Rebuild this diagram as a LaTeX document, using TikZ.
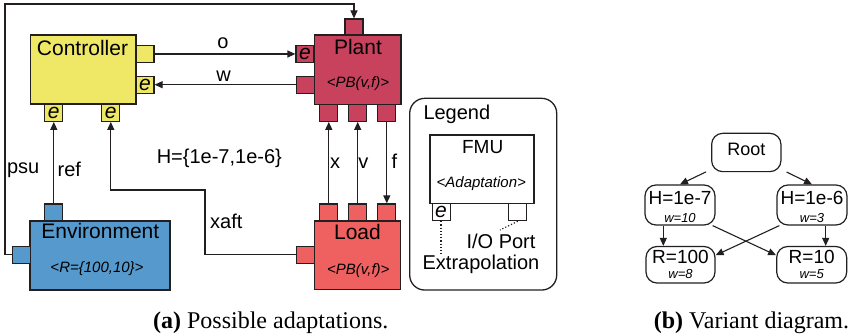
\documentclass[tikz,border=0pt]{standalone}
\usepackage{fontspec}
\setmainfont{Liberation Sans}
\newfontfamily\capfont{Liberation Serif}
\usetikzlibrary{arrows.meta}

\definecolor{ink}{HTML}{231F20}
\definecolor{ctrlY}{HTML}{EFE766}
\definecolor{plantR}{HTML}{C8425E}
\definecolor{loadR}{HTML}{EF6160}
\definecolor{envB}{HTML}{5599CD}

\tikzset{
  fmu/.style={draw=ink, line width=1.4pt, inner sep=0pt},
  port/.style={draw=ink, line width=1.2pt, minimum width=18pt, minimum height=17pt,
    inner sep=0pt, font=\fontsize{21}{21}\selectfont\itshape},
  wire/.style={draw=ink, line width=1.2pt},
  arr/.style={-{Triangle[length=8pt,width=7pt]}},
  lbl/.style={inner sep=0pt, anchor=base, font=\fontsize{20}{20}\selectfont},
  title/.style={inner sep=0pt, anchor=base, font=\fontsize{21}{21}\selectfont},
  adapt/.style={inner sep=0pt, anchor=base, font=\fontsize{15}{15}\selectfont\itshape},
  gnode/.style={draw=ink, line width=1.2pt, rounded corners=11pt, fill=white, inner sep=0pt},
  gtext/.style={inner sep=0pt, anchor=base, font=\fontsize{19}{19}\selectfont},
  gw/.style={inner sep=0pt, anchor=base, font=\fontsize{13}{13}\selectfont\itshape},
  garr/.style={draw=ink, line width=1.1pt, -{Triangle[length=8pt,width=7pt]}},
  capst/.style={inner sep=0pt, anchor=base, font=\capfont\fontsize{24}{24}\selectfont},
  dots/.style={draw=ink, line width=1.2pt, dash pattern=on 1.2pt off 2pt}
}

\begin{document}
\begin{tikzpicture}[x=1pt, y=-1pt]
\useasboundingbox (0,0) rectangle (854,336);

% ---------- Controller ----------
\node[fmu, fill=ctrlY, minimum width=105.3pt, minimum height=69pt] (ctrl) at (83.3,69.5) {};
\node[title] (ctrlT) at (82.5,56) {Controller};
\node[port, fill=ctrlY] (cO) at (145,54) {};
\node[port, fill=ctrlY] (cW) at (145,84.7) {e};
\node[port, fill=ctrlY] (cRef) at (53.8,112.8) {e};
\node[port, fill=ctrlY] (cX) at (110.8,112.8) {e};

% ---------- Plant ----------
\node[fmu, fill=plantR, minimum width=86.7pt, minimum height=69.3pt] (plant) at (357.7,69.7) {};
\node[title] (plantT) at (358,55) {Plant};
\node[adapt] (plantA) at (358,87.5) {<PB(v,f)>};
\node[port, fill=plantR, minimum height=16pt] (pTop) at (354,27) {};
\node[port, fill=plantR] (pO) at (305,54) {e};
\node[port, fill=plantR] (pW) at (305.3,84.7) {};
\node[port, fill=plantR] (pX) at (328.8,112.8) {};
\node[port, fill=plantR] (pV) at (357.7,112.8) {};
\node[port, fill=plantR] (pF) at (386.8,112.8) {};

% ---------- Load ----------
\node[fmu, fill=loadR, minimum width=86.4pt, minimum height=68.3pt] (load) at (357.5,255.2) {};
\node[title] (loadT) at (357.5,239.3) {Load};
\node[adapt] (loadA) at (358.3,274.5) {<PB(v,f)>};
\node[port, fill=loadR] (lX) at (328.8,212.5) {};
\node[port, fill=loadR] (lV) at (357.7,212.5) {};
\node[port, fill=loadR] (lF) at (386.8,212.5) {};
\node[port, fill=loadR] (lXaft) at (305.3,254.7) {};

% ---------- Environment ----------
\node[fmu, fill=envB, minimum width=140pt, minimum height=69pt] (env) at (100,255.5) {};
\node[title] (envT) at (100.3,239) {Environment};
\node[adapt] (envA) at (97,272.5) {<R=\{100,10\}>};
\node[port, fill=envB] (eRef) at (53.8,212.5) {};
\node[port, fill=envB] (ePsu) at (21.2,254.7) {};

% ---------- connections ----------
\coordinate (cornerTL) at (5,4);
\coordinate (xaftBend) at (205,190);
\draw[wire, arr] (ePsu.west) -| (cornerTL) -| (pTop.north);
\draw[wire, arr] (cO.east) -- (pO.west);
\draw[wire, arr] (pW.west) -- (cW.east);
\draw[wire, arr] (eRef.north) -- (cRef.south);
\draw[wire, arr] (lXaft.west) -| (xaftBend) -| (cX.south);
\draw[wire, arr] (lX.north) -- (pX.south);
\draw[wire, arr] (lV.north) -- (pV.south);
\draw[wire, arr] (pF.south) -- (lF.north);

\node[lbl] (lo) at (223,48.3) {o};
\node[lbl] (lw) at (223.7,81.7) {w};
\node[lbl] (lref) at (69.3,176.7) {ref};
\node[lbl] (lpsu) at (23.2,173.5) {psu};
\node[lbl] (lH) at (219.3,163.3) {H=\{1e-7,1e-6\}};
\node[lbl] (lxaft) at (226.3,228.3) {xaft};
\node[lbl] (lx) at (335,169) {x};
\node[lbl] (lv) at (363.3,169) {v};
\node[lbl] (lf) at (394.5,169) {f};

% ---------- Legend ----------
\node[draw=ink, line width=1.3pt, rounded corners=15pt, minimum width=147pt,
      minimum height=191.7pt, inner sep=0pt] (legend) at (483.2,194.2) {};
\node[lbl, anchor=base west] (legT) at (423.3,120) {Legend};
\node[fmu, fill=white, line width=1.2pt, minimum width=104pt, minimum height=68.3pt] (fmuBox) at (482,169.2) {};
\node[title, font=\fontsize{19}{19}\selectfont] (fmuT) at (482.7,154) {FMU};
\node[adapt] (fmuA) at (481.3,187.5) {<Adaptation>};
\node[port, fill=white, line width=1pt] (legE) at (441,212.3) {e};
\node[port, fill=white, line width=1pt] (legIO) at (517.8,212.3) {};
\coordinate (ioEnd) at (500,230);
\coordinate (exEnd) at (441,254);
\draw[dots] (legE.south) -- (exEnd);
\draw[dots] (legIO.south) -- (ioEnd);
\node[lbl] (ioT) at (501,248.3) {I/O Port};
\node[lbl] (exT) at (481,269.3) {Extrapolation};

% ---------- Variant diagram ----------
\node[gnode, minimum width=69.3pt, minimum height=38.3pt] (root) at (746.3,152.5) {};
\node[gtext, font=\fontsize{18}{18}\selectfont] (rootT) at (746.3,156) {Root};

\node[gnode, minimum width=70pt, minimum height=40pt] (h7) at (680,205) {};
\node[gtext] (h7T) at (680,205) {H=1e-7};
\node[gw] (h7w) at (680,222.3) {w=10};

\node[gnode, minimum width=70pt, minimum height=40pt] (h6) at (812,205) {};
\node[gtext] (h6T) at (812,205) {H=1e-6};
\node[gw] (h6w) at (812,222.3) {w=3};

\node[gnode, minimum width=69pt, minimum height=36.5pt] (r100) at (680.5,264.75) {};
\node[gtext] (r100T) at (680.5,264) {R=100};
\node[gw] (r100w) at (680.5,279) {w=8};

\node[gnode, minimum width=70pt, minimum height=36.5pt] (r10) at (811.7,264.75) {};
\node[gtext] (r10T) at (811.7,264) {R=10};
\node[gw] (r10w) at (811.7,279) {w=5};

\draw[garr, shorten <=5.5pt] (root) -- (h7.north);
\draw[garr, shorten <=5.5pt] (root) -- (h6.north);
\draw[garr] ([xshift=-16.7pt]h7.south) -- ([xshift=-16.7pt]h7.south |- r100.north);
\draw[garr] ([xshift=13.7pt]h6.south) -- ([xshift=13.7pt]h6.south |- r10.north);
\draw[garr] ([xshift=-3pt]h7.south east) -- ([yshift=9.5pt]r10.west);
\draw[garr] ([xshift=3pt]h6.south west) -- ([yshift=9.5pt]r100.east);

% ---------- captions ----------
\node[capst] (capA) at (270.8,328.3) {\textbf{(a)} Possible adaptations.};
\node[capst] (capB) at (751.5,328.3) {\textbf{(b)} Variant diagram.};
\end{tikzpicture}
\end{document}
